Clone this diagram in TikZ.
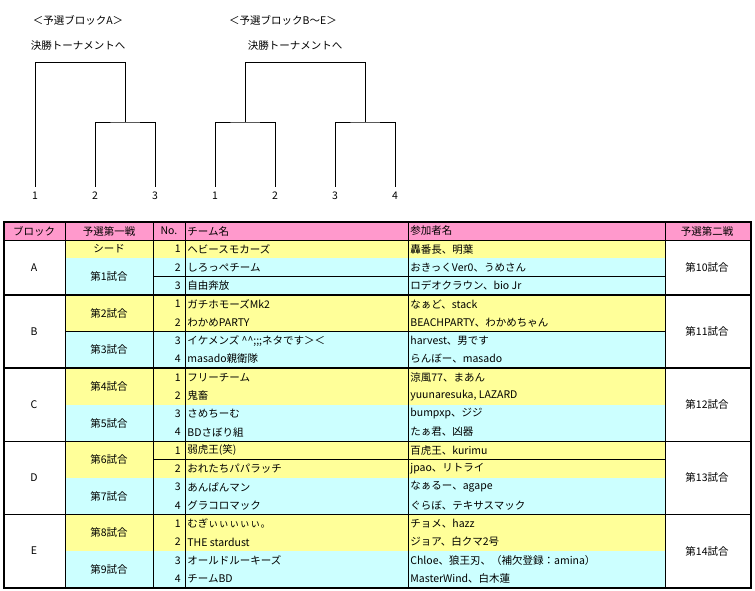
\documentclass[tikz,border=0pt]{standalone}
\usepackage{fontspec}
\setmainfont{Noto Sans CJK JP}
\usetikzlibrary{positioning,calc}
\definecolor{rowY}{RGB}{255,255,153}
\definecolor{rowC}{RGB}{204,255,255}
\definecolor{headP}{RGB}{255,153,204}
\newcommand{\teamrow}[5]{% row, no., team, members, colour
  \fill[#5] (65,{240+18.3*(#1-1)}) rectangle (665,{240+18.3*#1});
  \node[cell, anchor=east] (no#1) at (182,{240+18.3*(#1-0.5)}) {#2};
  \node[cell, anchor=west] (tm#1) at (186,{240+18.3*(#1-0.5)}) {#3};
  \node[cell, anchor=west] (mb#1) at (409,{240+18.3*(#1-0.5)}) {#4};
  \draw[thin] (153,{240+18.3*#1}) -- (665,{240+18.3*#1});
}
\newcommand{\matchcell}[4]{% first row, rows, label, colour
  \fill[#4] (65,{240+18.3*(#1-1)}) rectangle (153,{240+18.3*(#1-1+#2)});
  \node[cell] (m#1) at (109,{240+18.3*(#1-1+#2/2)}) {#3};
  \draw[thin] (65,{240+18.3*(#1-1+#2)}) -- (153,{240+18.3*(#1-1+#2)});
}
\begin{document}
\begin{tikzpicture}[x=1pt, y=-1pt, line width=0.8pt]
\tikzset{cell/.style={inner sep=1pt, font=\fontsize{10.5}{12}\selectfont},
         brk/.style={line width=0.8pt}}
\useasboundingbox (0,0) rectangle (755,590);

% brackets
\node[cell] (tA) at (78,20) {＜予選ブロックA＞};
\node[cell] (fA) at (78,46) {決勝トーナメントへ};
\node[cell] (tB) at (283,20) {＜予選ブロックB〜E＞};
\node[cell] (fB) at (295,46) {決勝トーナメントへ};
\foreach \x/\n in {35/1,95/2,155/3} \node[cell] (a\n) at (\x,196) {\n};
\foreach \x/\n in {215/1,275/2,335/3,395/4} \node[cell] (b\n) at (\x,196) {\n};
\draw[brk] (a1.north) ++(0,-4) |- (125,62) -- (125,122);
\draw[brk] (a2.north) ++(0,-4) |- (125,122) -| ($(a3.north)+(0,-4)$);
\draw[brk] (245,122) |- (365,62) -- (365,122);
\draw[brk] (b1.north) ++(0,-4) |- (245,122) -| ($(b2.north)+(0,-4)$);
\draw[brk] (b3.north) ++(0,-4) |- (365,122) -| ($(b4.north)+(0,-4)$);

% table header
\fill[headP] (4,222) rectangle (751,240);
\foreach \x/\t/\k in {34/ブロック/1,109/予選第一戦/2,169/No./3,707/予選第二戦/6}
  \node[cell] (h\k) at (\x,231) {\t};
\node[cell, anchor=west] (h4) at (186,231) {チーム名};
\node[cell, anchor=west] (h5) at (409,231) {参加者名};

% rows
\teamrow{1}{1}{ヘビースモカーズ}{轟番長、明葉}{rowY}
\teamrow{2}{2}{しろっぺチーム}{おきっくVer0、うめさん}{rowC}
\teamrow{3}{3}{自由奔放}{ロデオクラウン、bio Jr}{rowC}
\teamrow{4}{1}{ガチホモーズMk2}{なぁど、stack}{rowY}
\teamrow{5}{2}{わかめPARTY}{BEACHPARTY、わかめちゃん}{rowY}
\teamrow{6}{3}{イケメンズ\ \textasciicircum\textasciicircum ;;;ネタです＞＜}{harvest、男です}{rowC}
\teamrow{7}{4}{masado親衛隊}{らんぼー、masado}{rowC}
\teamrow{8}{1}{フリーチーム}{涼風77、まあん}{rowY}
\teamrow{9}{2}{鬼畜}{yuunaresuka, LAZARD}{rowY}
\teamrow{10}{3}{さめちーむ}{bumpxp、ジジ}{rowC}
\teamrow{11}{4}{BDさぼり組}{たぁ君、凶器}{rowC}
\teamrow{12}{1}{弱虎王(笑)}{百虎王、kurimu}{rowY}
\teamrow{13}{2}{おれたちパパラッチ}{jpao、リトライ}{rowY}
\teamrow{14}{3}{あんぱんマン}{なぁるー、agape}{rowC}
\teamrow{15}{4}{グラコロマック}{ぐらぼ、テキサスマック}{rowC}
\teamrow{16}{1}{むぎぃぃぃぃぃ。}{チョメ、hazz}{rowY}
\teamrow{17}{2}{THE stardust}{ジョア、白クマ2号}{rowY}
\teamrow{18}{3}{オールドルーキーズ}{Chloe、狼王刃、（補欠登録：amina）}{rowC}
\teamrow{19}{4}{チームBD}{MasterWind、白木蓮}{rowC}

\matchcell{1}{1}{シード}{rowY}
\matchcell{2}{2}{第1試合}{rowC}
\foreach \r/\k/\c in {4/2/rowY,6/3/rowC,8/4/rowY,10/5/rowC,12/6/rowY,14/7/rowC,16/8/rowY,18/9/rowC} {
  \matchcell{\r}{2}{第{\k}試合}{\c}
}

% block and second-round columns
\foreach \b/\r/\n/\k in {A/1/3/10,B/4/4/11,C/8/4/12,D/12/4/13,E/16/4/14} {
  \node[cell] (blk\b) at (34,{240+18.3*(\r-1+\n/2)}) {\b};
  \node[cell] (sec\b) at (707,{240+18.3*(\r-1+\n/2)}) {第{\k}試合};
}

% grid
\foreach \x in {65,153,185,408,665} \draw[thin] (\x,222) -- (\x,587.7);
\draw[thin] (4,240) -- (751,240);
\foreach \r in {3,7,11,15} \draw[line width=1.6pt] (4,{240+18.3*\r}) -- (751,{240+18.3*\r});
\draw[line width=1.6pt] (4,222) rectangle (751,587.7);
\end{tikzpicture}
\end{document}
